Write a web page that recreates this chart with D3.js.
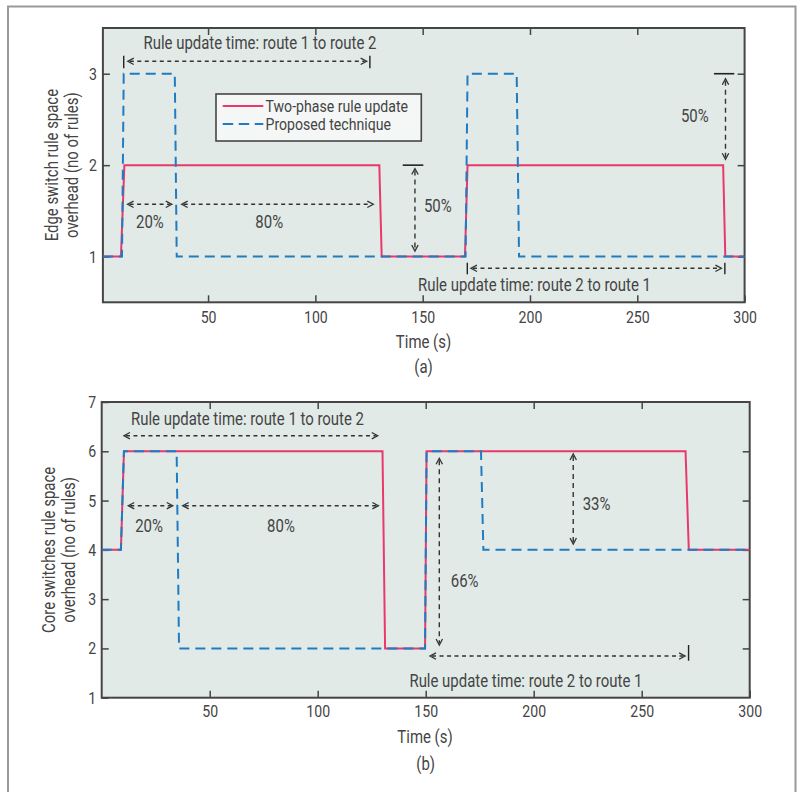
<!DOCTYPE html>
<html>
<head>
<meta charset="utf-8">
<script src="https://cdn.jsdelivr.net/npm/d3@7"></script>
<style>
  html, body { margin: 0; padding: 0; background: #ffffff; }
  svg { display: block; font-family: Roboto, "Noto Sans", "DejaVu Sans", sans-serif; }
</style>
</head>
<body>
<svg id="fig" width="801" height="792"></svg>
<script>
// ---- Data: rule-space overhead over time (breakpoints of step traces) ----
const seriesNames = ["Two-phase rule update", "Proposed technique"];

// (a) edge switch
const edgeTwoPhaseT = [1, 9.4, 11, 129.8, 130.9, 169.7, 170.9, 290, 291, 300];
const edgeTwoPhaseV = [1, 1, 2, 2, 1, 1, 2, 2, 1, 1];
const edgeProposedT = [1, 9.9, 10.7, 34.5, 35.4, 170, 170.9, 193.8, 194.9, 300];
const edgeProposedV = [1, 1, 3, 3, 1, 1, 3, 3, 1, 1];

// (b) core switches
const coreTwoPhaseT = [0, 8.9, 10.3, 130, 131.2, 149.7, 150.4, 270.3, 271.8, 300];
const coreTwoPhaseV = [4, 4, 6, 6, 2, 2, 6, 6, 4, 4];
const coreProposedT = [0, 8.9, 10.3, 34.7, 35.8, 149.7, 150.4, 175.6, 176.7, 300];
const coreProposedV = [4, 4, 6, 6, 2, 2, 6, 6, 4, 4];

// Tick values
const xTicks = [50, 100, 150, 200, 250, 300];
const edgeYTicks = [1, 2, 3];
const coreYTicks = [1, 2, 3, 4, 5, 6, 7];

// ---- Style ----
const RED = "#e8386c";
const BLUE = "#1f7cc2";
const AXIS = "#454545";
const INK = "#444444";
const PLOT_BG = "#e1eae7";
const SX = 0.83; // horizontal squeeze giving a condensed face

const svg = d3.select("#fig");

// Outer figure frame (open at the bottom)
svg.append("path")
  .attr("d", "M8,792 V6.5 H795.5 V792")
  .attr("fill", "none").attr("stroke", "#9a9a9a").attr("stroke-width", 2);

function label(g, x, y, s, opt = {}) {
  const rot = opt.rot ? ` rotate(${opt.rot})` : "";
  return g.append("text")
    .attr("transform", `translate(${x},${y})${rot} scale(${SX},1)`)
    .attr("text-anchor", opt.anchor || "middle")
    .attr("font-size", opt.size || 18)
    .attr("fill", INK)
    .text(s);
}

function zip(T, V) { return T.map((t, i) => [t, V[i]]); }

// Open chevron arrow head; (x,y) is the tip, (dx,dy) the direction it points
function head(g, x, y, dx, dy) {
  const L = 6, W = 3.2;
  const bx = x - dx * L, by = y - dy * L;
  const px = -dy * W, py = dx * W;
  g.append("path")
    .attr("d", `M${bx + px},${by + py} L${x},${y} L${bx - px},${by - py}`)
    .attr("fill", "none").attr("stroke", "#333").attr("stroke-width", 1.3);
}

function hArrow(g, x1, x2, y) {
  g.append("line").attr("x1", x1 + 2).attr("x2", x2 - 2).attr("y1", y).attr("y2", y)
    .attr("stroke", "#333").attr("stroke-width", 1.4).attr("stroke-dasharray", "4,3.5");
  head(g, x1, y, -1, 0);
  head(g, x2, y, 1, 0);
}

function vArrow(g, x, y1, y2) {
  g.append("line").attr("x1", x).attr("x2", x).attr("y1", y1 + 2).attr("y2", y2 - 2)
    .attr("stroke", "#333").attr("stroke-width", 1.4).attr("stroke-dasharray", "5,4");
  head(g, x, y1, 0, -1);
  head(g, x, y2, 0, 1);
}

function bar(g, x1, y1, x2, y2, w = 1.4) {
  g.append("line").attr("x1", x1).attr("y1", y1).attr("x2", x2).attr("y2", y2)
    .attr("stroke", "#222").attr("stroke-width", w);
}

function panel(cfg) {
  const { x, y } = cfg;
  const g = svg.append("g");
  const [x0, x1] = x.range();
  const [y1, y0] = y.range();

  g.append("rect").attr("x", x0).attr("y", y0).attr("width", x1 - x0).attr("height", y1 - y0)
    .attr("fill", PLOT_BG);

  const styleAxis = a => {
    a.attr("color", AXIS).attr("font-family", null).attr("font-size", null);
    a.select(".domain").remove();
    a.selectAll(".tick line").attr("stroke-width", 1.5);
  };

  // bottom axis with labels
  g.append("g").attr("transform", `translate(0,${y1})`)
    .call(d3.axisBottom(x).tickValues(xTicks).tickSize(-7).tickSizeOuter(0).tickFormat(d3.format("d")))
    .call(styleAxis)
    .call(a => a.selectAll(".tick text")
      .attr("y", null).attr("dy", null).attr("fill", INK)
      .attr("font-size", 17)
      .attr("transform", `translate(0,${cfg.xLabelOff}) scale(${SX},1)`));

  // top mirror ticks
  g.append("g").attr("transform", `translate(0,${y0})`)
    .call(d3.axisTop(x).tickValues(xTicks.filter(v => v < 300)).tickSize(-7).tickFormat(""))
    .call(styleAxis);

  // left axis with labels
  g.append("g").attr("transform", `translate(${x0},0)`)
    .call(d3.axisLeft(y).tickValues(cfg.yTicks).tickSize(-7).tickSizeOuter(0).tickFormat(d3.format("d")))
    .call(styleAxis)
    .call(a => a.selectAll(".tick text")
      .attr("x", null).attr("fill", INK)
      .attr("font-size", 17)
      .attr("transform", `translate(${-cfg.yLabelOff},0) scale(${SX},1)`));

  // right mirror ticks
  g.append("g").attr("transform", `translate(${x1},0)`)
    .call(d3.axisRight(y).tickValues(cfg.yTicks.filter(v => v > y.domain()[0] && v < y.domain()[1]))
      .tickSize(-7).tickFormat(""))
    .call(styleAxis);

  // frame
  g.append("rect").attr("x", x0).attr("y", y0).attr("width", x1 - x0).attr("height", y1 - y0)
    .attr("fill", "none").attr("stroke", AXIS).attr("stroke-width", 2);

  // traces
  const line = d3.line().x(d => x(d[0])).y(d => y(d[1]));
  const clip = "clip-" + cfg.id;
  g.append("clipPath").attr("id", clip).append("rect")
    .attr("x", x0).attr("y", y0).attr("width", x1 - x0).attr("height", y1 - y0);
  const traces = g.append("g").attr("clip-path", `url(#${clip})`);
  traces.append("path").datum(zip(cfg.redT, cfg.redV)).attr("d", line)
    .attr("fill", "none").attr("stroke", RED).attr("stroke-width", 2);
  traces.append("path").datum(zip(cfg.blueT, cfg.blueV)).attr("d", line)
    .attr("fill", "none").attr("stroke", BLUE).attr("stroke-width", 2)
    .attr("stroke-dasharray", "10,6");

  // axis titles
  label(g, cfg.xTitle[0], cfg.xTitle[1], "Time (s)");
  label(g, cfg.sub[0], cfg.sub[1], cfg.subText);
  const cy = (y0 + y1) / 2;
  label(g, cfg.yTitleX[0], cy, cfg.yTitle[0], { rot: -90 });
  label(g, cfg.yTitleX[1], cy, cfg.yTitle[1], { rot: -90 });

  return g;
}

// ---------- (a) Edge switch ----------
const xa = d3.scaleLinear([1, 300], [102.9, 744.6]);
const ya = d3.scaleLinear([0.5, 3.5], [302.3, 28]);
const ga = panel({
  id: "a", x: xa, y: ya, yTicks: edgeYTicks,
  redT: edgeTwoPhaseT, redV: edgeTwoPhaseV, blueT: edgeProposedT, blueV: edgeProposedV,
  xLabelOff: 20.5, yLabelOff: 6,
  xTitle: [423.5, 348], sub: [423.5, 373], subText: "(a)",
  yTitleX: [58, 78], yTitle: ["Edge switch rule space", "overhead (no of rules)"]
});

// route 1 -> route 2 span
bar(ga, xa(10.7), ya(3.197), xa(10.7), ya(3.059));
bar(ga, xa(125.4), ya(3.197), xa(125.4), ya(3.059));
hArrow(ga, xa(12.6), xa(123.9), ya(3.136));
label(ga, xa(74.2), ya(3.267), "Rule update time: route 1 to route 2");
// 20% / 80% split
hArrow(ga, xa(12.5), xa(33.1), ya(1.572));
label(ga, xa(22.9), ya(1.309), "20%");
hArrow(ga, xa(37.7), xa(127), ya(1.572));
label(ga, xa(78.5), ya(1.309), "80%");
// 50% saving between phases
bar(ga, xa(140.7), ya(2), xa(150.3), ya(2), 1.6);
vArrow(ga, xa(146.4), ya(1.963), ya(1.061));
label(ga, xa(150.6), ya(1.491), "50%", { anchor: "start" });
// 50% saving at the end
bar(ga, xa(285.7), ya(3), xa(295.2), ya(3), 1.6);
vArrow(ga, xa(291.1), ya(2.945), ya(2.064));
label(ga, xa(276.8), ya(2.469), "50%");
// route 2 -> route 1 span
bar(ga, xa(170.8), ya(0.933), xa(170.8), ya(0.806));
bar(ga, xa(290.8), ya(0.933), xa(290.8), ya(0.806));
hArrow(ga, xa(172.5), xa(289.2), ya(0.872));
label(ga, xa(202.1), ya(0.624), "Rule update time: route 2 to route 1");

// legend
const lg = ga.append("g");
lg.append("rect").attr("x", 216).attr("y", 94).attr("width", 205.3).attr("height", 47)
  .attr("fill", "#f4f7f6").attr("stroke", AXIS).attr("stroke-width", 1.6);
lg.append("line").attr("x1", 222.7).attr("x2", 263.3).attr("y1", 106).attr("y2", 106)
  .attr("stroke", RED).attr("stroke-width", 2);
lg.append("line").attr("x1", 222.7).attr("x2", 263.3).attr("y1", 124).attr("y2", 124)
  .attr("stroke", BLUE).attr("stroke-width", 2).attr("stroke-dasharray", "10.5,5.5");
label(lg, 265.5, 112, seriesNames[0], { anchor: "start", size: 17 });
label(lg, 265.5, 130, seriesNames[1], { anchor: "start", size: 17 });

// ---------- (b) Core switches ----------
const xb = d3.scaleLinear([0, 300], [101.7, 749.7]);
const yb = d3.scaleLinear([1, 7], [697.7, 402]);
const gb = panel({
  id: "b", x: xb, y: yb, yTicks: coreYTicks,
  redT: coreTwoPhaseT, redV: coreTwoPhaseV, blueT: coreProposedT, blueV: coreProposedV,
  xLabelOff: 19.6, yLabelOff: 5.5,
  xTitle: [425, 743.3], sub: [425.7, 770], subText: "(b)",
  yTitleX: [54.5, 74.5], yTitle: ["Core switches rule space", "overhead (no of rules)"]
});

label(gb, xb(67.5), yb(6.533), "Rule update time: route 1 to route 2");
hArrow(gb, xb(10.3), xb(127.8), yb(6.316));
hArrow(gb, xb(12.3), xb(32.9), yb(4.896));
label(gb, xb(21.9), yb(4.368), "20%");
hArrow(gb, xb(37.5), xb(128.1), yb(4.896));
label(gb, xb(83), yb(4.368), "80%");
// 33% saving
vArrow(gb, xb(218.3), yb(5.945), yb(4.118));
label(gb, xb(222.7), yb(4.81), "33%", { anchor: "start" });
// 66% saving
vArrow(gb, xb(156.3), yb(5.858), yb(2.069));
label(gb, xb(161.6), yb(3.246), "66%", { anchor: "start" });
// route 2 -> route 1 span
bar(gb, xb(271.7), yb(2.069), xb(271.7), yb(1.75));
hArrow(gb, xb(152), xb(270.1), yb(1.846));
label(gb, xb(196.4), yb(1.211), "Rule update time: route 2 to route 1");
</script>
</body>
</html>
